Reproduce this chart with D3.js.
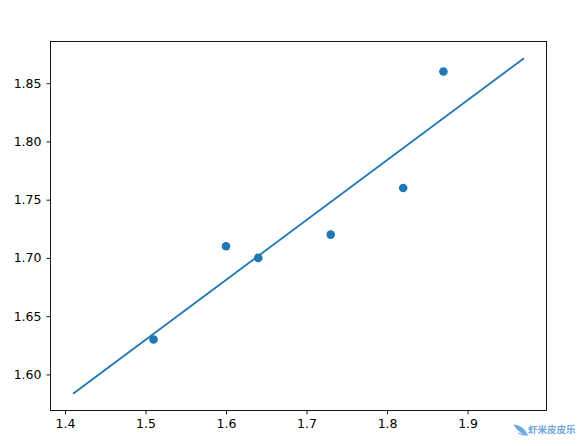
<!DOCTYPE html>
<html><head><meta charset="utf-8">
<script src="https://cdn.jsdelivr.net/npm/d3@7"></script>
<style>body{margin:0;background:#fff}</style>
</head><body>
<svg id="c" width="581" height="446"></svg>
<script>
const pointsX = [1.51, 1.60, 1.64, 1.73, 1.82, 1.87];
const pointsY = [1.63, 1.71, 1.70, 1.72, 1.76, 1.86];
const lineX = [1.41, 1.97];
const lineY = [1.5834, 1.8714];
const xTicks = [1.4, 1.5, 1.6, 1.7, 1.8, 1.9];
const yTicks = [1.60, 1.65, 1.70, 1.75, 1.80, 1.85];

const svg = d3.select("#c");
const L = 50.5, R = 546.5, T = 41.5, B = 410.5;
const x = d3.scaleLinear().domain([1.382, 1.998]).range([L, R]);
const y = d3.scaleLinear().domain([1.569, 1.8858]).range([B, T]);
const col = "#1f77b4";

const xa = svg.append("g").attr("transform", `translate(0,${B})`)
  .call(d3.axisBottom(x).tickValues(xTicks).tickFormat(d3.format(".1f")).tickSizeOuter(0).tickSize(4).tickPadding(5));
const ya = svg.append("g").attr("transform", `translate(${L},0)`)
  .call(d3.axisLeft(y).tickValues(yTicks).tickFormat(d3.format(".2f")).tickSizeOuter(0).tickSize(4).tickPadding(5));
[xa, ya].forEach(a => {
  a.select(".domain").remove();
  a.selectAll("text").attr("font-family", "DejaVu Sans").attr("font-size", 12.5).attr("fill", "#000");
  a.selectAll("line").attr("stroke", "#000").attr("stroke-width", 0.9);
});

svg.append("path")
  .datum(lineX.map((v, i) => [v, lineY[i]]))
  .attr("d", d3.line().x(d => x(d[0])).y(d => y(d[1])))
  .attr("fill", "none").attr("stroke", col).attr("stroke-width", 1.8);

svg.append("g").selectAll("circle").data(pointsX.map((v, i) => [v, pointsY[i]]))
  .join("circle").attr("cx", d => x(d[0])).attr("cy", d => y(d[1])).attr("r", 4.3).attr("fill", col);

svg.append("rect").attr("x", L).attr("y", T).attr("width", R - L).attr("height", B - T)
  .attr("fill", "none").attr("stroke", "#000").attr("stroke-width", 0.9);

// watermark
svg.append("path").attr("d", "M514,425 q9,1 13,9 q-7,0 -13,-9 z M518,433 q6,3 10,2")
  .attr("fill", "#4a90d9").attr("stroke", "#4a90d9").attr("stroke-width", 1).attr("opacity", 0.8);
svg.append("text").attr("x", 528).attr("y", 433).text("虾米皮皮乐")
  .attr("font-family", "Noto Sans CJK SC").attr("font-size", 9.5).attr("font-weight", "bold")
  .attr("fill", "#4a90d9").attr("opacity", 0.8);
</script>
</body></html>
